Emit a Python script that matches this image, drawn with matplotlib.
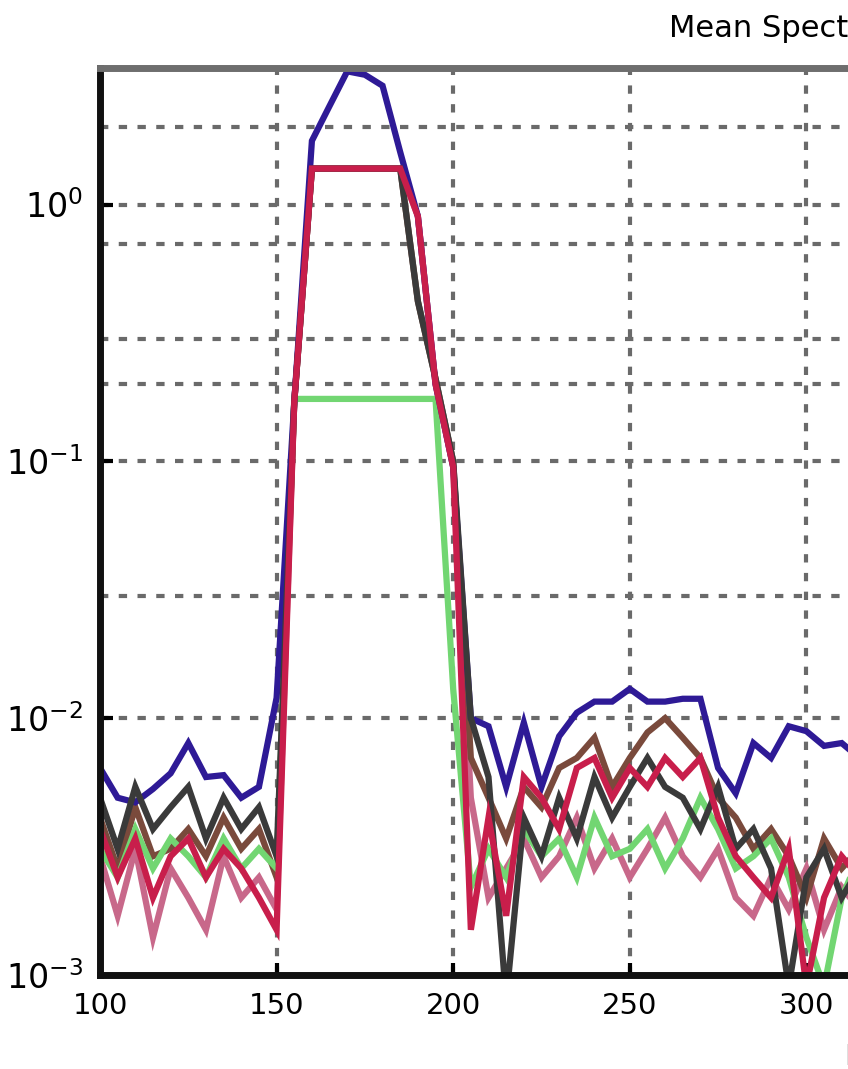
"""
Mean spectrum of the band-pass filtered signals on a log scale.
"""

import numpy as np
import matplotlib.pyplot as plt
from matplotlib.ticker import FixedLocator, LogLocator, NullFormatter

# frequency bins (Hz)
freq = np.arange(100, 320, 5)

# spectra, one per channel
spec_rose = [0.0029, 0.0017, 0.0031, 0.0014, 0.0026, 0.0020, 0.0015, 0.0029, 0.0020, 0.0024, 0.0018,
             0.17, 1.38, 1.38, 1.38, 1.38, 1.38, 1.38, 0.9, 0.2, 0.095,
             0.0049, 0.0020, 0.0026, 0.0034, 0.0024, 0.0029, 0.0041, 0.0026, 0.0034, 0.0024, 0.0031,
             0.0041, 0.0029, 0.0024, 0.0031, 0.0020, 0.0017, 0.0024, 0.0018, 0.0026, 0.0015, 0.0022, 0.0018]
spec_brown = [0.0041, 0.0026, 0.0045, 0.0029, 0.0031, 0.0037, 0.0029, 0.0041, 0.0031, 0.0037, 0.0024,
              0.17, 1.38, 1.38, 1.38, 1.38, 1.38, 1.38, 0.42, 0.21, 0.1,
              0.0070, 0.0049, 0.0034, 0.0054, 0.0045, 0.0064, 0.0070, 0.0084, 0.0054, 0.0070, 0.0088,
              0.0100, 0.0084, 0.0070, 0.0049, 0.0041, 0.0031, 0.0037, 0.0029, 0.0020, 0.0034, 0.0026, 0.0031]
spec_green = [0.0031, 0.0024, 0.0037, 0.0026, 0.0034, 0.0029, 0.0024, 0.0034, 0.0026, 0.0031, 0.0026,
              0.175, 0.175, 0.175, 0.175, 0.175, 0.175, 0.175, 0.175, 0.175, 0.013,
              0.0022, 0.0031, 0.0024, 0.0037, 0.0029, 0.0034, 0.0024, 0.0041, 0.0029, 0.0031, 0.0037,
              0.0026, 0.0034, 0.0049, 0.0037, 0.0026, 0.0029, 0.0034, 0.0024, 0.0014, 0.0009, 0.0020, 0.0029]
spec_black = [0.0049, 0.0031, 0.0054, 0.0037, 0.0045, 0.0054, 0.0034, 0.0049, 0.0037, 0.0045, 0.0029,
              0.17, 1.38, 1.38, 1.38, 1.38, 1.38, 1.38, 0.42, 0.21, 0.1,
              0.0100, 0.0059, 0.0008, 0.0041, 0.0029, 0.0049, 0.0034, 0.0059, 0.0041, 0.0054, 0.0070,
              0.0054, 0.0049, 0.0037, 0.0054, 0.0031, 0.0037, 0.0026, 0.0009, 0.0024, 0.0031, 0.0020, 0.0026]
spec_red = [0.0037, 0.0024, 0.0034, 0.0020, 0.0029, 0.0034, 0.0024, 0.0031, 0.0026, 0.0020, 0.0015,
            0.17, 1.38, 1.38, 1.38, 1.38, 1.38, 1.38, 0.9, 0.2, 0.095,
            0.0015, 0.0041, 0.0017, 0.0059, 0.0049, 0.0037, 0.0064, 0.0070, 0.0049, 0.0064, 0.0054,
            0.0070, 0.0059, 0.0070, 0.0041, 0.0029, 0.0024, 0.0020, 0.0031, 0.0009, 0.0020, 0.0029, 0.0024]
spec_blue = [0.0064, 0.0049, 0.0047, 0.0053, 0.0061, 0.0080, 0.0059, 0.0060, 0.0049, 0.0054, 0.0120,
             0.17, 1.77, 2.42, 3.3, 3.2, 2.9, 1.6, 0.9, 0.2, 0.095,
             0.0100, 0.0093, 0.0054, 0.0096, 0.0054, 0.0085, 0.0105, 0.0116, 0.0116, 0.0130, 0.0116,
             0.0116, 0.0119, 0.0119, 0.0064, 0.0051, 0.0080, 0.0070, 0.0093, 0.0089, 0.0078, 0.0080, 0.0070]

spectra = [spec_rose, spec_brown, spec_green, spec_blue, spec_black, spec_red]
colors = ['#c8688a', '#7a4a3c', '#72d672', '#2e1a96', '#3a3a3a', '#c81e4b']

# x ticks and the extra y values that get a dotted grid line
x_ticks = [100, 150, 200, 250, 300]
grid_minor = [2, 0.7, 0.3, 0.2, 0.03]


def main():
    fig = plt.figure(figsize=(8.48, 10.69), dpi=100)
    ax = fig.add_axes([100 / 848, 94 / 1069, 1660 / 848, 907 / 1069])

    for s, c in zip(spectra, colors):
        ax.plot(freq, s, color=c, lw=4.5, solid_joinstyle='miter')

    ax.set_yscale('log')
    ax.set_xlim(100, 570)
    ax.set_ylim(1e-3, 3.4)
    ax.set_xticks(x_ticks)
    ax.yaxis.set_major_locator(LogLocator(base=10, numticks=10))
    ax.yaxis.set_minor_locator(FixedLocator(grid_minor))
    ax.yaxis.set_minor_formatter(NullFormatter())

    ax.grid(which='both', color='#6a6a6a', lw=3, linestyle=(0, (2, 2.5)))
    ax.set_axisbelow(True)
    ax.tick_params(which='major', direction='in', length=9, width=3, pad=12)
    ax.tick_params(axis='x', labelsize=21)
    ax.tick_params(axis='y', labelsize=24)
    ax.tick_params(which='minor', length=0)

    for side in ['left', 'bottom']:
        ax.spines[side].set_linewidth(5)
        ax.spines[side].set_color('#111111')
    ax.spines['top'].set_linewidth(5)
    ax.spines['top'].set_color('#6e6e6e')

    ax.set_title('Mean Spectrum of Filtered Signals', fontsize=22, pad=22)
    ax.set_xlabel('Frequency (Hz)', fontsize=21, labelpad=14)
    ax.xaxis.set_label_coords(0.515, -0.075)

    fig.savefig('out.png', dpi=100)


if __name__ == '__main__':
    main()
